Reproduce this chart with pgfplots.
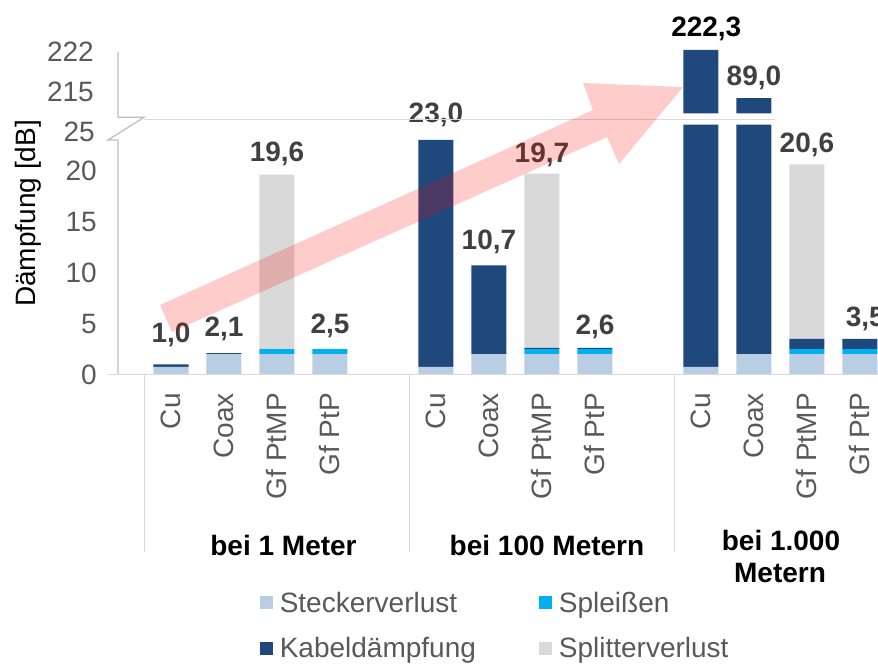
\documentclass[border=0pt]{standalone}
\usepackage{pgfplots}
\usepackage{pgfplotstable}
\pgfplotsset{compat=1.18}
\usepackage{fontspec}
\setmainfont{Liberation Sans}

\definecolor{stecker}{HTML}{B9CDE5}
\definecolor{spleiss}{HTML}{00B0F0}
\definecolor{kabel}{HTML}{1F497D}
\definecolor{splitter}{HTML}{D9D9D9}
\definecolor{txt}{HTML}{595959}
\definecolor{val}{HTML}{404040}
\definecolor{linegray}{HTML}{D9D9D9}
\definecolor{axisgray}{HTML}{BFBFBF}

\newcommand\chartfont{\fontsize{28}{33}\selectfont}

% lower part of the broken axis (0..25); the 1.000 m copper/coax bars are cut at 24.5
\pgfplotstableread{
x  stecker spleiss kabel splitter
0  0.75    0       0.25  0
1  2.0     0       0.1   0
2  2.0     0.5     0     17.1
3  2.0     0.5     0     0
5  0.75    0       22.25 0
6  2.0     0       8.7   0
7  2.0     0.5     0.1   17.1
8  2.0     0.5     0.1   0
10 0.75    0       23.75 0
11 2.0     0       22.5  0
12 2.0     0.5     1.0   17.1
13 2.0     0.5     1.0   0
}\lowerdata

\pgfplotsset{
  brk/.style={scale only axis, width=760pt, xmin=-1, xmax=13.34,
    axis line style={draw=none}, major tick length=0pt, clip mode=individual,
    tick label style={font=\chartfont, text=txt},
    /pgf/number format/assume math mode=true,
    /pgf/number format/1000 sep={},
    yticklabel style={anchor=east, inner sep=0pt}},
  sq/.style={legend image code/.code={\fill[##1] (0pt,-6.5pt) rectangle (13pt,6.5pt);}},
}
\tikzset{lbl/.style={anchor=base, inner sep=0pt, font=\chartfont\bfseries, text=val}}

\begin{document}
\begin{tikzpicture}

\begin{axis}[brk, at={(118pt,-374.5pt)}, anchor=south west,
  height=255pt, ymin=0, ymax=25,
  ybar stacked, bar width=35pt,
  ytick={0,5,10,15,20}, yticklabel shift=21pt,
  xtick={0,1,2,3,5,6,7,8,10,11,12,13},
  xticklabels={Cu,Coax,Gf PtMP,Gf PtP,Cu,Coax,Gf PtMP,Gf PtP,Cu,Coax,Gf PtMP,Gf PtP},
  xticklabel style={rotate=90, anchor=east, inner sep=0pt}, xticklabel shift=18.5pt,
  legend columns=2,
  legend cell align=left,
  legend style={at={(0.183,-0.836)}, anchor=north west, draw=none, fill=none,
    font=\chartfont, text=txt, row sep=20pt,
    nodes={inner xsep=6.5pt},
    /tikz/every even column/.append style={column sep=57pt}},
]
\addplot[fill=stecker, draw=none, sq] table[x=x, y=stecker] {\lowerdata};
\addlegendentry{Steckerverlust}
\addplot[fill=spleiss, draw=none, sq] table[x=x, y=spleiss] {\lowerdata};
\addlegendentry{Spleißen}
\addplot[fill=kabel, draw=none, sq] table[x=x, y=kabel] {\lowerdata};
\addlegendentry{Kabeldämpfung}
\addplot[fill=splitter, draw=none, sq] table[x=x, y=splitter] {\lowerdata};
\addlegendentry{Splitterverlust}

\node[lbl] at (axis cs:0,3.12) {1,0};
\node[lbl] at (axis cs:1,3.71) {2,1};
\node[lbl] at (axis cs:2,20.86) {19,6};
\node[lbl] at (axis cs:3,4.04) {2,5};
\node[lbl] at (axis cs:5,24.69) {23,0};
\node[lbl] at (axis cs:6,12.21) {10,7};
\node[lbl] at (axis cs:7,20.76) {19,7};
\node[lbl] at (axis cs:8,3.97) {2,6};
\node[lbl] at (axis cs:12,21.75) {20,6};
\node[lbl] at (axis cs:13.1,4.69) {3,5};

% group separators
\draw[linegray, line width=1.3pt] (axis cs:-0.5,0) -- ++(0pt,-177.5pt);
\draw[linegray, line width=1.3pt] (axis cs:4.5,0) -- ++(0pt,-177.5pt);
\draw[linegray, line width=1.3pt] (axis cs:9.5,0) -- ++(0pt,-177.5pt);
\end{axis}

% upper part of the broken axis
\begin{axis}[brk, at={(118pt,-113.3pt)}, anchor=south west,
  height=68.3pt, ymin=211.38, ymax=223.16,
  ybar, bar width=35pt,
  ytick={215,222}, yticklabel shift=24pt, xtick=\empty,
]
\addplot[fill=kabel, draw=none] coordinates {(10,222.3) (11,214.0)};
\node[lbl, text=black] at (axis cs:10.1,224.71) {222,3};
\node[lbl] at (axis cs:11,216.14) {89,0};
\end{axis}

\begin{scope}[x=1pt, y=-1pt]
  \draw[axisgray, line width=1.3pt] (118,52) -- (118,117.3) -- (144,117.3)
    -- (108,140) -- (118,140) -- (118,374.5);
  \draw[linegray, line width=1.3pt] (144,119.5) -- (775,119.5);
  \draw[linegray, line width=1.3pt] (108,374.5) -- (878,374.5);
  \node[anchor=east, inner sep=0pt, font=\chartfont, text=txt] at (95,131.7) {25};
  \node[rotate=90, anchor=base, inner sep=0pt, font=\chartfont] at (35,213.5) {Dämpfung [dB]};
  \node[anchor=base, inner sep=0pt, font=\chartfont\bfseries] at (283.5,555) {bei 1 Meter};
  \node[anchor=base, inner sep=0pt, font=\chartfont\bfseries] at (547,555) {bei 100 Metern};
  \node[anchor=base, inner sep=0pt, font=\chartfont\bfseries] at (781,550) {bei 1.000};
  \node[anchor=base, inner sep=0pt, font=\chartfont\bfseries] at (780,582) {Metern};
  \fill[red, opacity=0.2] (160,305) -- (593,110) -- (583,83) -- (683,87)
    -- (619,164) -- (607,137) -- (172,332) -- cycle;
\end{scope}

\pgfresetboundingbox
\path[use as bounding box] (0pt,0pt) rectangle (878pt,-664pt);
\end{tikzpicture}
\end{document}
